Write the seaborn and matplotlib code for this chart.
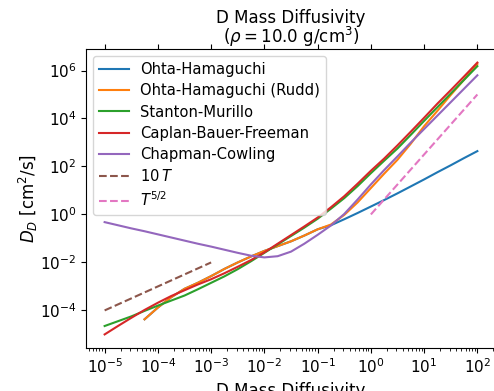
import numpy as np
import pandas as pd
import matplotlib
matplotlib.use("Agg")
import matplotlib.pyplot as plt
import seaborn as sns

# log10 of temperature grid
logT = [-5.0, -4.75, -4.5, -4.25, -4.0, -3.75, -3.5, -3.25, -3.0, -2.75, -2.5, -2.25,
        -2.0, -1.75, -1.5, -1.25, -1.0, -0.75, -0.5, -0.25, 0.0, 0.25, 0.5, 0.75,
        1.0, 1.25, 1.5, 1.75, 2.0]
logT_oh = logT[3:]

# log10 of D values
ohta = [-4.37, -3.88, -3.45, -3.10, -2.85, -2.57, -2.27, -2.00, -1.75, -1.52, -1.32, -1.12,
        -0.88, -0.62, -0.45, -0.20, 0.06, 0.33, 0.60, 0.88, 1.17, 1.46, 1.76, 2.05, 2.35, 2.64]
ohta_rudd = [-4.37, -3.88, -3.45, -3.10, -2.85, -2.57, -2.27, -2.00, -1.75, -1.52, -1.32, -1.12,
             -0.88, -0.62, -0.42, -0.02, 0.50, 1.10, 1.70, 2.28, 2.95, 3.68, 4.32, 4.98, 5.62, 6.27]
stanton = [-4.65, -4.45, -4.25, -4.02, -3.80, -3.59, -3.38, -3.12, -2.85, -2.58, -2.28, -1.95,
           -1.60, -1.25, -0.90, -0.55, -0.18, 0.24, 0.68, 1.18, 1.72, 2.24, 2.75, 3.32,
           3.90, 4.47, 5.04, 5.61, 6.18]
caplan = [-5.00, -4.65, -4.31, -3.98, -3.68, -3.40, -3.16, -2.92, -2.70, -2.45, -2.18, -1.90,
          -1.58, -1.22, -0.86, -0.50, -0.13, 0.30, 0.76, 1.28, 1.82, 2.33, 2.88, 3.45,
          4.03, 4.62, 5.18, 5.75, 6.33]
chapman = [-0.32, -0.45, -0.58, -0.70, -0.83, -0.96, -1.09, -1.22, -1.34, -1.47, -1.60, -1.72,
           -1.79, -1.74, -1.55, -1.22, -0.85, -0.46, 0.02, 0.62, 1.25, 1.85, 2.42, 3.00,
           3.56, 4.12, 4.68, 5.24, 5.80]

# reference scaling lines
T_lin = [1e-5, 1e-3]
D_lin = [1e-4, 1e-2]
T_52 = [1.0, 100.0]
D_52 = [1.0, 1e5]

series = [
    ("Ohta-Hamaguchi", logT_oh, ohta, "C0"),
    ("Ohta-Hamaguchi (Rudd)", logT_oh, ohta_rudd, "C1"),
    ("Stanton-Murillo", logT, stanton, "C2"),
    ("Caplan-Bauer-Freeman", logT, caplan, "C3"),
    ("Chapman-Cowling", logT, chapman, "C4"),
]

fig = plt.figure(figsize=(4.94, 3.91), dpi=100)
ax = fig.add_axes([86 / 494, 43 / 391, 410 / 494, 299 / 391])

for name, lx, ly, col in series:
    df = pd.DataFrame({"T": np.power(10.0, lx), "D": np.power(10.0, ly)})
    sns.lineplot(data=df, x="T", y="D", ax=ax, color=col, label=name,
                 estimator=None, sort=False, linewidth=1.5)

sns.lineplot(x=T_lin, y=D_lin, ax=ax, color="C5", linestyle="--", label=r"$10\,T$",
             estimator=None, sort=False, linewidth=1.5)
sns.lineplot(x=T_52, y=D_52, ax=ax, color="C6", linestyle="--", label=r"$T^{5/2}$",
             estimator=None, sort=False, linewidth=1.5)

ax.set_xscale("log")
ax.set_yscale("log")
ax.set_title("D Mass Diffusivity\n" + r"($\rho = 10.0$ g/cm$^3$)", fontsize=12,
             linespacing=0.9, pad=4)
ax.set_xlabel("D Mass Diffusivity", fontsize=12)
ax.set_ylabel(r"$D_D$ [cm$^2$/s]", fontsize=12, labelpad=0)
ax.tick_params(axis="both", labelsize=11)
ax.tick_params(axis="x", which="major", top=True)
ax.legend(loc="upper left", fontsize=10.6, labelspacing=0.42)

fig.savefig("out.png", dpi=100)
